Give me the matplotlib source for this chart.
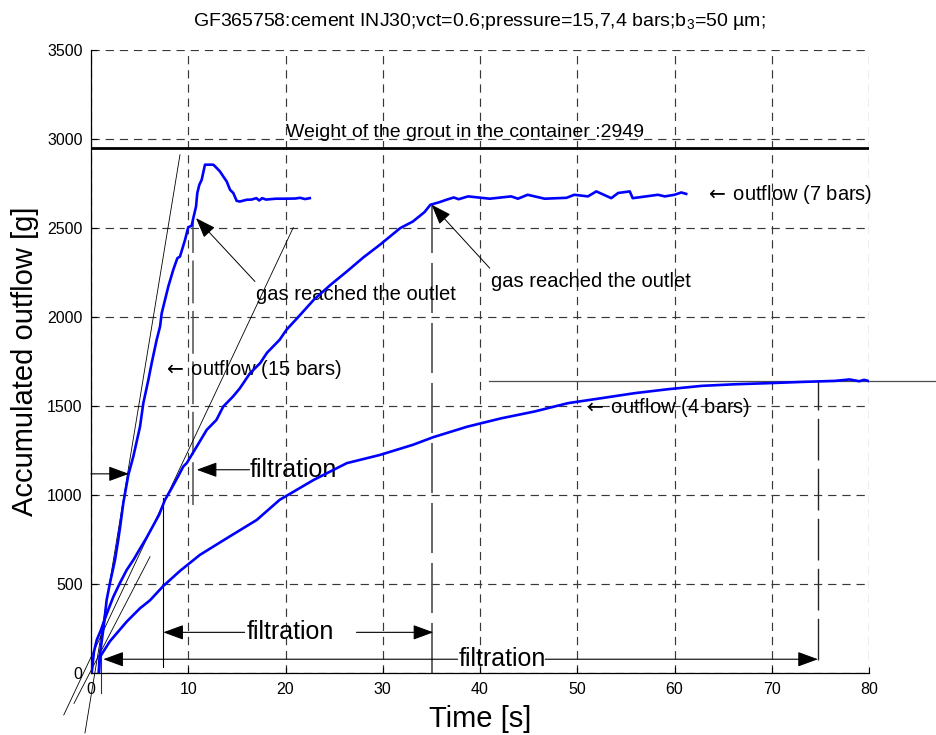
import matplotlib
matplotlib.use("Agg")
import matplotlib.pyplot as plt

plt.rcParams['font.family'] = ['Liberation Sans', 'DejaVu Sans']
plt.rcParams['mathtext.fontset'] = 'dejavusans'

# ---------------- data ----------------
x15 = [0.82, 0.84, 0.93, 1.3, 1.61, 1.95, 2.47, 2.8, 3.0, 3.32, 3.84, 4.35, 5.04, 5.38,
       5.9, 6.24, 6.75, 7.10, 7.27, 7.61, 7.95, 8.46, 8.88, 9.15, 9.67, 10.0, 10.35, 10.52,
       10.8, 10.93, 11.14, 11.38, 11.72, 12.58, 12.93, 13.26, 13.6, 13.95, 14.3, 14.63,
       14.98, 15.3, 16.0, 16.5, 17.0, 17.3, 17.6, 18.0, 19.0, 20.0, 21.0, 21.5, 22.0, 22.5]
y15 = [0, 60, 112, 260, 412, 507, 637, 749, 824, 955, 1114, 1217, 1385, 1517,
       1648, 1742, 1872, 1947, 2022, 2097, 2172, 2266, 2331, 2340, 2434, 2505, 2513, 2556,
       2621, 2697, 2743, 2771, 2856, 2856, 2837, 2818, 2790, 2762, 2715, 2697,
       2653, 2649, 2659, 2660, 2668, 2655, 2668, 2660, 2665, 2665, 2666, 2670, 2663, 2668]

x7 = [0.07, 0.3, 0.59, 1.0, 1.26, 1.8, 2.3, 3.0, 3.67, 4.4, 5.04, 5.7, 6.4, 7.0, 7.61,
      8.3, 9.0, 9.49, 9.84, 10.87, 11.9, 12.9, 13.6, 14.6, 15.3, 16.35, 17.4, 18.1, 19.4,
      20.1, 21.3, 22.9, 24.6, 26.3, 28.0, 29.7, 31.8, 33.1, 34.3, 34.9, 35.8, 36.6, 37.3,
      37.8, 38.77, 41.0, 43.2, 43.9, 44.9, 46.65, 48.9, 49.7, 51.1, 51.96, 53.5, 54.2,
      55.4, 55.7, 58.3, 59.0, 60.0, 60.7, 61.2]
y7 = [0, 120, 187, 240, 281, 360, 430, 510, 580, 640, 700, 760, 830, 890, 974,
      1040, 1110, 1161, 1180, 1273, 1367, 1423, 1498, 1554, 1600, 1685, 1742, 1800, 1873,
      1929, 2000, 2097, 2180, 2256, 2335, 2406, 2500, 2537, 2590, 2631, 2645, 2660, 2672,
      2662, 2678, 2665, 2678, 2665, 2687, 2665, 2670, 2687, 2678, 2706, 2668, 2697,
      2706, 2668, 2687, 2678, 2687, 2700, 2692]

x4 = [0.8, 0.93, 1.95, 3.67, 5.04, 6.07, 7.43, 9.15, 11.2, 13.95, 17.04, 19.4, 22.9,
      26.3, 29.7, 33.1, 35.2, 38.7, 42.2, 45.6, 49.05, 52.5, 55.9, 59.3, 62.8, 66.2,
      69.6, 73.0, 76.5, 78.0, 79.0, 79.5, 79.9]
y4 = [0, 93, 180, 290, 365, 410, 490, 575, 665, 758, 861, 974, 1086,
      1180, 1226, 1283, 1326, 1385, 1432, 1470, 1517, 1545, 1573, 1595, 1614, 1623,
      1629, 1636, 1642, 1650, 1640, 1648, 1642]

grout_weight = 2949

# tangent lines (end points)
tan15_x = [-0.62, 9.15]
tan15_y = [-335, 2912]
tan7_x = [-2.8, 20.8]
tan7_y = [-234, 2503]
tan4_x = [-1.75, 6.07]
tan4_y = [-169, 655]

xticks = list(range(0, 81, 10))
yticks = list(range(0, 3501, 500))

title = "GF365758:cement INJ30;vct=0.6;pressure=15,7,4 bars;b$\\mathregular{_3}$=50 \u00b5m;"

# ---------------- figure ----------------
W, H = 936, 735
fig = plt.figure(figsize=(W / 100, H / 100), dpi=100)
ax = fig.add_axes([91 / W, 1 - 673.3 / H, (869 - 91) / W, (673.3 - 50) / H])
ax.set_xlim(0, 80)
ax.set_ylim(0, 3500)
ax.set_xticks(xticks)
ax.set_yticks(yticks)
ax.tick_params(direction='in', length=4, labelsize=11.5, pad=6, top=False, right=False)
for s in ['top', 'right']:
    ax.spines[s].set_visible(False)
for s in ['left', 'bottom']:
    ax.spines[s].set_linewidth(0.9)
ax.grid(True, color='0.22', linestyle=(0, (7, 5)), linewidth=0.85)
ax.set_axisbelow(True)

blue = '#0000ff'
ax.plot(x15, y15, color=blue, lw=1.9, zorder=4)
ax.plot(x7, y7, color=blue, lw=1.9, zorder=4)
ax.plot(x4, y4, color=blue, lw=1.9, zorder=4)

# weight line
ax.plot([0, 80], [grout_weight, grout_weight], color='k', lw=2.0, zorder=3)
ax.text(20, 3010, "Weight of the grout in the container :%d" % grout_weight,
        fontsize=14, va='baseline', ha='left')

# tangents
for tx, ty in [(tan15_x, tan15_y), (tan7_x, tan7_y), (tan4_x, tan4_y)]:
    ax.plot(tx, ty, color='k', lw=0.6, clip_on=False, zorder=3)

# marker lines
gray = '0.3'
ax.plot([1.0, 1.0], [-112, 112], color='0.2', lw=0.8, clip_on=False)
ax.plot([7.43, 7.43], [37, 985], color='k', lw=0.8)
ax.plot([10.46, 10.46], [946, 2547], color=gray, lw=1.1, linestyle=(0, (28, 5)))
ax.plot([35.1, 35.1], [0, 2631], color=gray, lw=1.2, linestyle=(0, (30, 6)))
ax.plot([74.75, 74.75], [75, 1645], color='0.15', lw=1.0, linestyle=(0, (30, 6)))
ax.plot([40.9, 86.9], [1642, 1642], color='0.3', lw=0.9, clip_on=False)

# arrows
def arrow(tip, tail, lw=0.8):
    ax.annotate('', xy=tip, xytext=tail,
                arrowprops=dict(arrowstyle='-|>,head_length=0.9,head_width=0.33',
                                mutation_scale=14, color='k', lw=lw,
                                shrinkA=0, shrinkB=0), zorder=5)

arrow((10.8, 2556), (16.86, 2200), lw=0.7)
arrow((35.03, 2631), (41.0, 2275), lw=0.7)
ax.text(16.97, 2126, "gas reached the outlet", fontsize=14.5, va='center', ha='left')
ax.text(41.1, 2200, "gas reached the outlet", fontsize=14.5, va='center', ha='left')

# outflow labels
larr = "$\\leftarrow\\,$"
ax.text(7.43, 1704, larr + "outflow (15 bars)", fontsize=14.5, va='center', ha='left')
ax.text(63.1, 2687, larr + "outflow (7 bars)", fontsize=14.5, va='center', ha='left')
ax.text(50.6, 1494, larr + "outflow (4 bars)", fontsize=14.5, va='center', ha='left')

# filtration annotations
arrow((3.9, 1120), (0.0, 1120))
arrow((10.87, 1143), (16.3, 1143))
ax.text(16.35, 1143, "filtration", fontsize=18, va='center', ha='left')

arrow((7.43, 230), (15.8, 230))
ax.text(16.0, 230, "filtration", fontsize=18, va='center', ha='left')
arrow((35.2, 230), (27.3, 230))

arrow((1.26, 79), (37.7, 79))
ax.text(37.8, 79, "filtration", fontsize=18, va='center', ha='left')
arrow((74.75, 79), (46.7, 79))

ax.set_xlabel("Time [s]", fontsize=21, labelpad=6)
ax.set_ylabel("Accumulated outflow [g]", fontsize=21, labelpad=6)

fig.text(479 / W, 1 - 22 / H, title, fontsize=14, ha='center', va='center')

fig.savefig("out.png", dpi=100, facecolor='white')
